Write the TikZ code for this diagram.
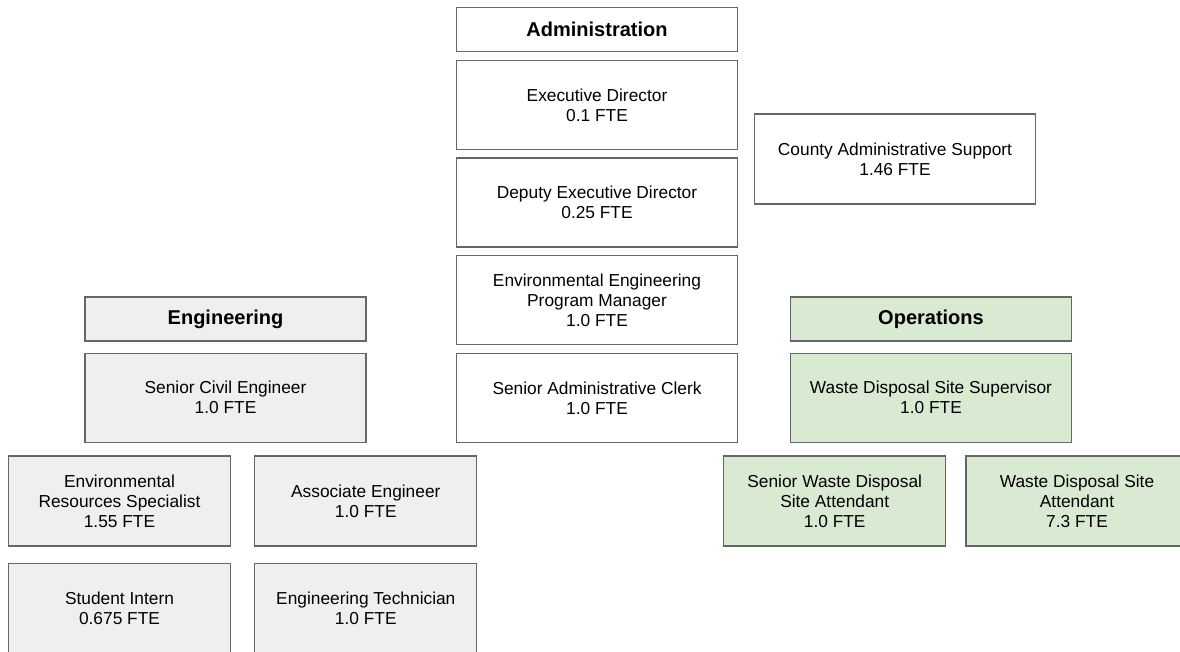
\documentclass[tikz,border=0pt]{standalone}
\usepackage{fontspec}
\setmainfont{Liberation Sans}
\usetikzlibrary{positioning}
\definecolor{linegray}{HTML}{666666}
\definecolor{enggray}{HTML}{EFEFEF}
\definecolor{opsgreen}{HTML}{D9EAD3}
\newcommand\rolesize{\fontsize{17.33}{20}\selectfont}
\newcommand\headsize{\fontsize{20}{23}\selectfont\bfseries}

\begin{document}
\begin{tikzpicture}[
  x=1pt,y=1pt,
  node distance=7.4pt,
  role/.style={draw=linegray,line width=1.3pt,fill=white,minimum width=281pt,
    minimum height=89pt,align=center,font=\rolesize,inner sep=2pt},
  head/.style={role,minimum height=44pt,font=\headsize},
  staff/.style={role,minimum width=222pt,minimum height=90pt},
  eng/.style={fill=enggray},
  ops/.style={fill=opsgreen}
]
\useasboundingbox (0,0) rectangle (1180,-652);
\clip (0,0) rectangle (1180,-652);
\fill[white] (0,0) rectangle (1180,-652);

% administration column
\node[head] (admin) at (597,-29.7) {Administration};
\node[role,below=of admin] (exec) {Executive Director\\0.1 FTE};
\node[role,below=of exec] (deputy) {Deputy Executive Director\\0.25 FTE};
\node[role,below=of deputy] (pm) {Environmental Engineering\\Program Manager\\1.0 FTE};
\node[role,below=of pm] (clerk) {Senior Administrative Clerk\\1.0 FTE};
\node[role,minimum height=90pt] (county) at (895,-159) {County Administrative Support\\1.46 FTE};

% engineering
\node[head,eng] (engineering) at (225.5,-319) {Engineering};
\node[role,eng,below=11pt of engineering] (civil) {Senior Civil Engineer\\1.0 FTE};
\node[staff,eng] (envres) at (119.5,-501) {Environmental\\Resources Specialist\\1.55 FTE};
\node[staff,eng,right=23pt of envres] (assoc) {Associate Engineer\\1.0 FTE};
\node[staff,eng,below=16pt of envres] (intern) {Student Intern\\0.675 FTE};
\node[staff,eng,below=16pt of assoc] (tech) {Engineering Technician\\1.0 FTE};

% operations
\node[head,ops] (operations) at (931,-319) {Operations};
\node[role,ops,below=11pt of operations] (supervisor) {Waste Disposal Site Supervisor\\1.0 FTE};
\node[staff,ops] (srattend) at (834.7,-501) {Senior Waste Disposal\\Site Attendant\\1.0 FTE};
\node[staff,ops,right=19pt of srattend] (attend) {Waste Disposal Site\\Attendant\\7.3 FTE};
\end{tikzpicture}
\end{document}
